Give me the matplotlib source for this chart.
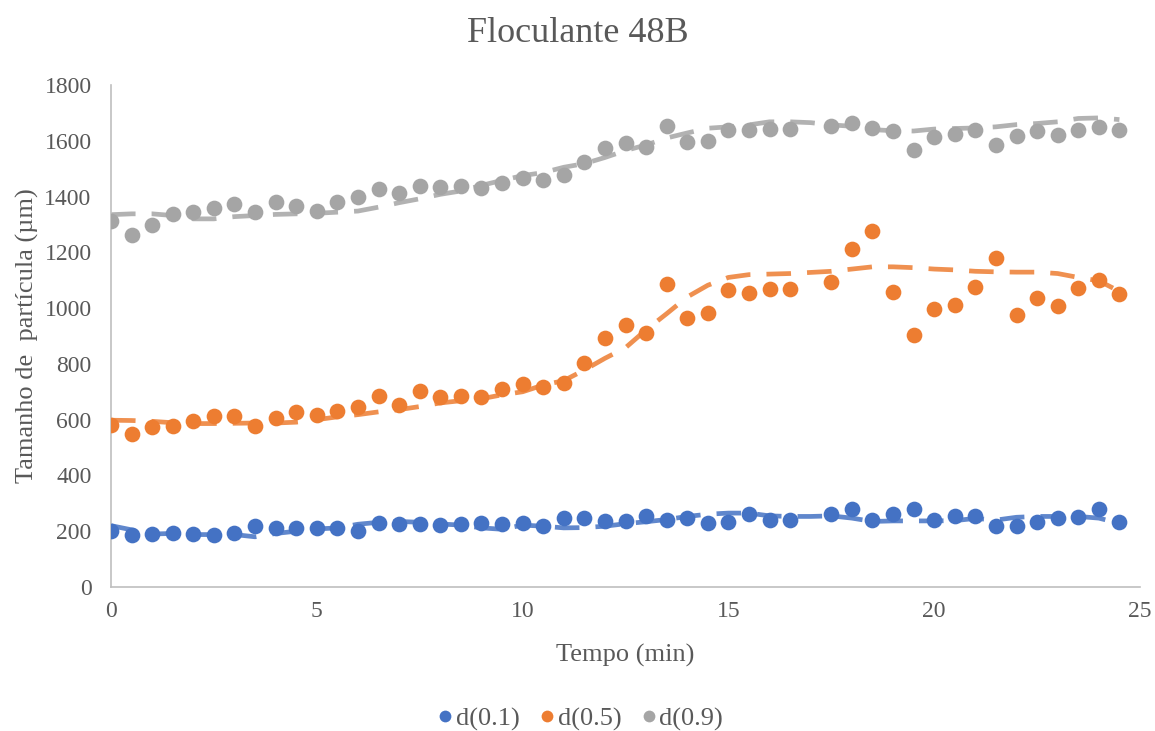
import numpy as np
import matplotlib
matplotlib.use("Agg")
import matplotlib.pyplot as plt

# measured time points (no sample at 17 min)
t_pts = [x for x in np.arange(0, 25, 0.5) if x != 17]
# trend (dashed) grid
t_line = list(np.arange(0, 25, 0.5))

d01 = [200, 188, 189, 194, 189, 188, 194, 217, 211, 211, 213, 213, 202, 230, 226, 226, 224, 225,
       230, 226, 230, 217, 247, 247, 235, 238, 255, 241, 246, 229, 233, 262, 242, 242,
       263, 279, 241, 262, 280, 241, 255, 256, 220, 219, 234, 249, 250, 279, 234]
d05 = [580, 548, 574, 579, 594, 613, 613, 579, 605, 629, 617, 632, 645, 685, 654, 702, 683, 686,
       681, 710, 728, 717, 733, 804, 893, 940, 912, 1088, 963, 981, 1065, 1055, 1070, 1067,
       1093, 1211, 1275, 1058, 903, 998, 1011, 1074, 1181, 977, 1036, 1009, 1073, 1101, 1049]
d09 = [1312, 1262, 1297, 1337, 1345, 1360, 1374, 1343, 1382, 1366, 1348, 1382, 1397, 1427, 1414,
       1438, 1434, 1439, 1431, 1449, 1466, 1459, 1478, 1525, 1575, 1593, 1577, 1654, 1596, 1600,
       1640, 1640, 1641, 1642, 1652, 1664, 1647, 1636, 1566, 1615, 1626, 1637, 1584, 1618,
       1634, 1620, 1637, 1648, 1640]

d01_trend = [220, 205, 190, 192, 188, 188, 188, 180, 192, 200, 208, 212, 225, 232, 235, 232, 226,
             222, 212, 207, 222, 218, 212, 213, 218, 227, 234, 242, 253, 261, 265, 265, 255, 253,
             253, 255, 247, 235, 237, 237, 237, 238, 246, 240, 250, 253, 253, 253, 247, 228]
d05_trend = [598, 597, 594, 589, 586, 586, 587, 588, 588, 591, 600, 610, 618, 628, 636, 647, 660,
             668, 675, 689, 700, 724, 740, 778, 820, 858, 922, 980, 1040, 1082, 1110, 1120, 1122,
             1124, 1128, 1132, 1140, 1148, 1148, 1145, 1140, 1137, 1132, 1130, 1129, 1129, 1124,
             1110, 1098, 1060]
d09_trend = [1335, 1338, 1338, 1332, 1320, 1320, 1328, 1332, 1336, 1338, 1340, 1344, 1348, 1362,
             1378, 1392, 1408, 1420, 1440, 1458, 1475, 1486, 1505, 1518, 1540, 1565, 1585, 1610,
             1628, 1645, 1650, 1657, 1668, 1668, 1665, 1657, 1652, 1640, 1636, 1635, 1642, 1644,
             1646, 1650, 1658, 1662, 1668, 1680, 1682, 1676]

labels = ["d(0.1)", "d(0.5)", "d(0.9)"]
colors = ["#4472C4", "#ED7D31", "#A5A5A5"]

plt.rcParams['font.family'] = ['Liberation Serif', 'DejaVu Serif']
txt = "#595959"

fig = plt.figure(figsize=(11.55, 7.31), dpi=100)
ax = fig.add_axes([111/1155, 1 - 587/731, (1140 - 111)/1155, (587 - 85)/731])

for y, tr, c, lab in zip([d01, d05, d09], [d01_trend, d05_trend, d09_trend], colors, labels):
    ax.plot(t_line, tr, color=c, lw=3.4, alpha=0.85, dashes=(5.2, 3.4), zorder=2)
    ax.plot(t_pts, y, 'o', color=c, ms=11.3, mec='none', label=lab, zorder=3)

ax.set_xlim(0, 25)
ax.set_ylim(0, 1800)
ax.set_xticks(range(0, 26, 5))
ax.set_yticks(range(0, 1801, 200))
for s in ['top', 'right']:
    ax.spines[s].set_visible(False)
for s in ['left', 'bottom']:
    ax.spines[s].set_color('#BFBFBF')
    ax.spines[s].set_linewidth(1.2)
ax.tick_params(length=0, labelsize=17, colors=txt, pad=10)
ax.tick_params(axis='y', pad=14)

ax.set_xlabel("Tempo (min)", fontsize=19, color=txt, labelpad=16)
ax.set_ylabel("Tamanho de  partícula (µm)", fontsize=19, color=txt, labelpad=4)
fig.text(0.5, 1 - 34/731, "Floculante 48B", ha='center', va='center', fontsize=26, color=txt)

fig.legend(loc='center', bbox_to_anchor=(0.5, 1 - 719/731), ncol=3, frameon=False,
           fontsize=19, labelcolor=txt, handletextpad=-0.1, columnspacing=0.55,
           markerscale=0.75, handlelength=1.0)

fig.savefig("out.png", dpi=100)
